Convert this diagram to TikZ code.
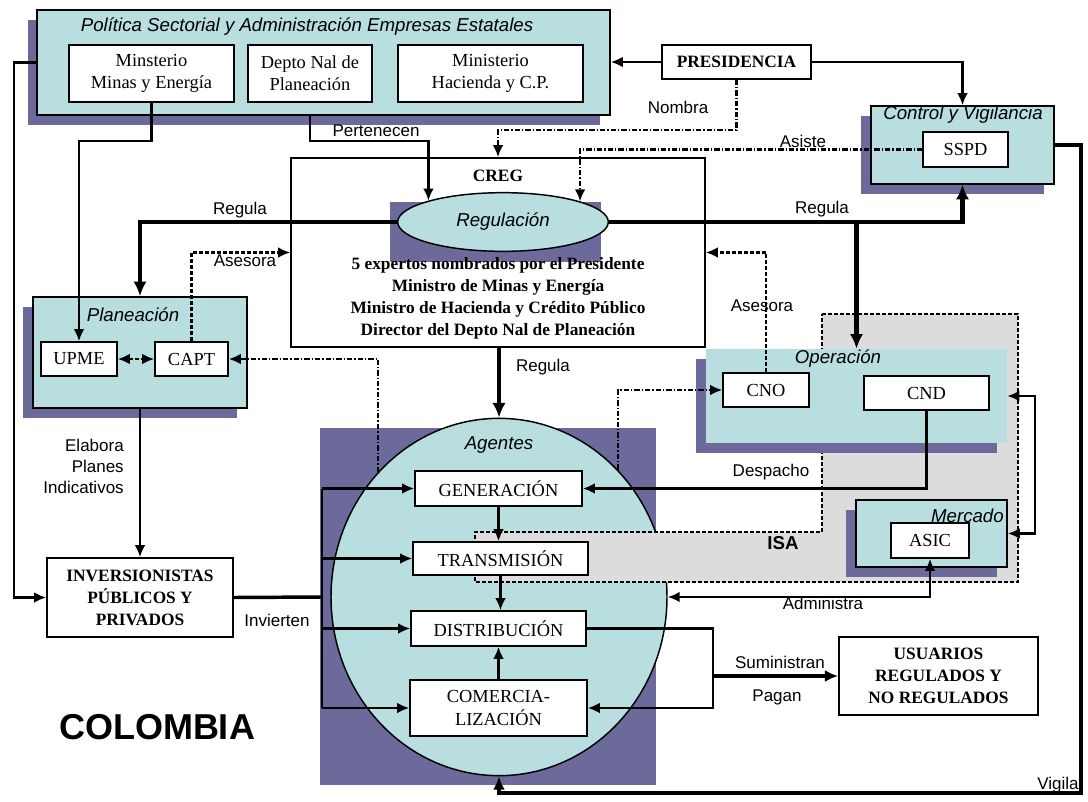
\documentclass[tikz,border=0pt]{standalone}
\usepackage{fontspec}
\setmainfont{Liberation Serif}
\setsansfont{Liberation Sans}
\usetikzlibrary{arrows.meta,fit,shapes.geometric,calc}
\definecolor{tealf}{RGB}{184,222,224}
\definecolor{shad}{RGB}{107,106,154}
\definecolor{isag}{RGB}{220,220,220}
\newcommand{\myBx}{\fontsize{13.8}{16.8}\selectfont}
\newcommand{\myBb}{\fontsize{13}{16.5}\selectfont\bfseries}
\newcommand{\myLb}{\sffamily\fontsize{12.75}{15.75}\selectfont}
\newcommand{\myTt}{\sffamily\itshape\fontsize{14}{16}\selectfont}
\begin{document}
\begin{tikzpicture}[x=0.75pt,y=-0.75pt,
  wh/.style 2 args={minimum width=#1*0.75pt,minimum height=#2*0.75pt},
  grp/.style={fill=tealf,draw=black,line width=1.2pt,inner sep=0pt},
  bx/.style={fill=white,draw=black,line width=1.2pt,inner sep=0pt,align=center,font=\myBx},
  bxb/.style={bx,font=\myBb},
  lbl/.style={font=\myLb,inner sep=0pt},
  ttl/.style={font=\myTt,inner sep=0pt},
  ln/.style={line width=1.7pt},
  arr/.style={ln,-{Latex[length=9pt,width=8pt]}},
  darr/.style={ln,{Latex[length=9pt,width=8pt]}-{Latex[length=9pt,width=8pt]}},
  tkarr/.style={line width=3.4pt,-{Latex[length=11pt,width=10pt]}},
  mdarr/.style={line width=2.5pt,-{Latex[length=10pt,width=9pt]}},
  dsh/.style={dash pattern=on 3pt off 1.5pt},
  dshdot/.style={dash pattern=on 4pt off 1.5pt on 1pt off 1.5pt},
]
\useasboundingbox (0,0) rectangle (1088,802);

% shadows and groups
\fill[shad] (28,20) rectangle (600,125);
\fill[shad] (861,116) rectangle (1044,194);
\fill[shad] (23,307) rectangle (237,418);
\node[grp,wh={573}{105}] (pol) at (323.5,62.5) {};
\node[grp,wh={183}{78}] (control) at (962.5,145) {};
\node[grp,wh={214}{111}] (plan) at (140,352.5) {};

% CREG
\node[fill=white,draw=black,line width=1.2pt,inner sep=0pt,wh={414}{189}] (creg) at (498,252.5) {};
\node[font=\myBb] (cregt) at (498,176) {CREG};
\fill[shad] (390,202) rectangle (601,262);
\node[font=\myBb,align=center] (cregm) at (498,298) {5 expertos nombrados por el Presidente\\Ministro de Minas y Energía\\Ministro de Hacienda y Crédito Público\\Director del Depto Nal de Planeación};
\node[ellipse,fill=tealf,draw=black,line width=1.1pt,minimum width=158pt,minimum height=44pt,inner sep=0pt,font=\myTt] (reg) at (503,222) {Regulación};

% Agentes
\fill[shad] (320,428) rectangle (656,785);
\node[ellipse,fill=tealf,draw=black,line width=1.1pt,minimum width=252pt,minimum height=268pt,inner sep=0pt] (agentes) at (499,597) {};

% ISA
\filldraw[fill=isag,draw=black,line width=1.6pt,dsh] (822,314) -- (1018,314) -- (1018,582) -- (475,582) -- (475,532) -- (822,532) -- cycle;

% Operacion, Mercado
\fill[shad] (696,359) rectangle (997,453);
\node[fill=tealf,inner sep=0pt,wh={301}{94}] (op) at (856.5,396) {};
\fill[shad] (846,510) rectangle (997,577);
\node[grp,wh={151}{67}] (mer) at (931.5,533.5) {};

% titles
\node[ttl] (tpol) at (307,27) {Política Sectorial y Administración Empresas Estatales};
\node[ttl] (tcon) at (963,115) {Control y Vigilancia};
\node[ttl] (tplan) at (133,315) {Planeación};
\node[ttl] (top) at (838,359) {Operación};
\node[ttl,anchor=east] (tmer) at (1004,516) {Mercado};
\node[ttl] (tag) at (499,445) {Agentes};

% boxes
\node[bx,wh={165}{57}] (minas) at (151.5,73.5) {Minsterio\\Minas y Energía};
\node[bx,wh={124}{57}] (depto) at (310,73.5) {Depto Nal de\\Planeación};
\node[bx,wh={185}{57}] (hac) at (490.5,73.5) {Ministerio\\Hacienda y C.P.};
\node[bxb,wh={149}{34}] (pres) at (736.5,62) {PRESIDENCIA};
\node[bx,wh={85}{35}] (sspd) at (965.5,149.5) {SSPD};
\node[bx,wh={76}{34}] (upme) at (79,359) {UPME};
\node[bx,wh={73}{34}] (capt) at (191.5,359) {CAPT};
\node[bx,wh={86}{34}] (cno) at (766,390) {CNO};
\node[bx,wh={125}{34}] (cnd) at (926.5,393) {CND};
\node[bx,wh={78}{35}] (asic) at (930,540.5) {ASIC};
\node[bxb,wh={186}{79}] (inv) at (140,597.5) {INVERSIONISTAS\\PÚBLICOS Y\\PRIVADOS};
\node[bx,wh={167}{35}] (gen) at (498.5,488.5) {GENERACIÓN};
\node[bx,wh={175}{33}] (tra) at (500.5,558.5) {TRANSMISIÓN};
\node[bx,wh={175}{35}] (dis) at (498.5,628.5) {DISTRIBUCIÓN};
\node[bx,wh={177}{56}] (com) at (498.5,708) {COMERCIA-\\LIZACIÓN};
\node[bxb,wh={199}{78}] (usu) at (938.5,676) {USUARIOS\\REGULADOS Y\\NO REGULADOS};

% helper coordinates
\coordinate (yNb) at (0,130);
\coordinate (yP) at (0,141);
\coordinate (xL) at (14,0);
\coordinate (bus) at (322,597);
\coordinate (br) at (1035,460);
\coordinate (sm) at (713,676);
\coordinate (vg) at (1081,793);

% connectors
\draw[arr] (pres.west) -- (pres.west -| pol.east);
\draw[arr] (pres.east) -| (control.north);
\draw[arr,dshdot] (pres.south) |- (creg.north |- yNb) -- (creg.north);
\draw[arr,dshdot] (sspd.west) -| (reg.15);
\draw[arr] (pol.south -| depto.south) |- (reg.164 |- yP) -- (reg.164);
\draw[arr] (minas.south) |- (upme.north |- yP) -- (upme.north);
\draw[arr] (pol.west) -| (xL |- inv.west) -- (inv.west);
\draw[tkarr] (reg.west) -| (plan.north);
\draw[tkarr] (reg.east) -| (control.south);
\draw[tkarr] (reg.east -| op.north) -- (op.north);
\draw[tkarr] (creg.south -| agentes.north) -- (agentes.north);
\draw[arr,dsh] (capt.north) |- (creg.west);
\draw[arr,dsh] (cno.north) |- (creg.east);
\draw[darr,dsh] (upme.east) -- (capt.west);
\draw[arr,dshdot] (agentes.134) |- (capt.east);
\draw[arr,dshdot] (agentes.47.6) |- (cno.west);
\draw[arr] (plan.south) -- (inv.north);
\draw[line width=2.6pt] (inv.east) -- (bus);
\draw[line width=2pt] (bus |- gen.west) -- (bus |- com.west);
\foreach \n in {gen,tra,dis,com} \draw[arr] (bus |- \n.west) -- (\n.west);
\draw[arr] (gen.south) -- (gen.south |- tra.north);
\draw[arr] (tra.south) -- (tra.south |- dis.north);
\draw[arr] (com.north) -- (com.north |- dis.south);
\draw[arr] (cnd.south) |- (gen.east);
\draw[darr] (op.east) -| (br) |- (mer.east);
\draw[darr] (asic.south) |- (agentes.east);
\draw[arr] (dis.east) -| (sm) |- (com.east);
\draw[mdarr] (sm) -- (usu.west);
\draw[mdarr] (control.east) -| (vg) -| (agentes.south);

% labels
\node[lbl] (lPert) at (376,131) {Pertenecen};
\node[lbl] (lNomb) at (678,107) {Nombra};
\node[lbl] (lAsis) at (803,141) {Asiste};
\node[lbl] (lReg1) at (240,210) {Regula};
\node[lbl] (lReg2) at (822,209) {Regula};
\node[lbl] (lAse1) at (245,261) {Asesora};
\node[lbl] (lAse2) at (762,306) {Asesora};
\node[lbl] (lReg3) at (543,367) {Regula};
\node[lbl,align=right,anchor=east] (lElab) at (124,466) {Elabora\\Planes\\Indicativos};
\node[lbl] (lInv) at (277,620) {Invierten};
\node[lbl] (lDesp) at (771,472) {Despacho};
\node[font=\sffamily\bfseries\fontsize{14}{16}\selectfont] (lIsa) at (783,543) {ISA};
\node[lbl] (lAdm) at (823,603) {Administra};
\node[lbl] (lSum) at (780,662) {Suministran};
\node[lbl] (lPag) at (777,697) {Pagan};
\node[lbl] (lVig) at (1058,785) {Vigila};
\node[font=\sffamily\bfseries\fontsize{27}{30}\selectfont] (lCol) at (157,727) {COLOMBIA};
\end{tikzpicture}
\end{document}
